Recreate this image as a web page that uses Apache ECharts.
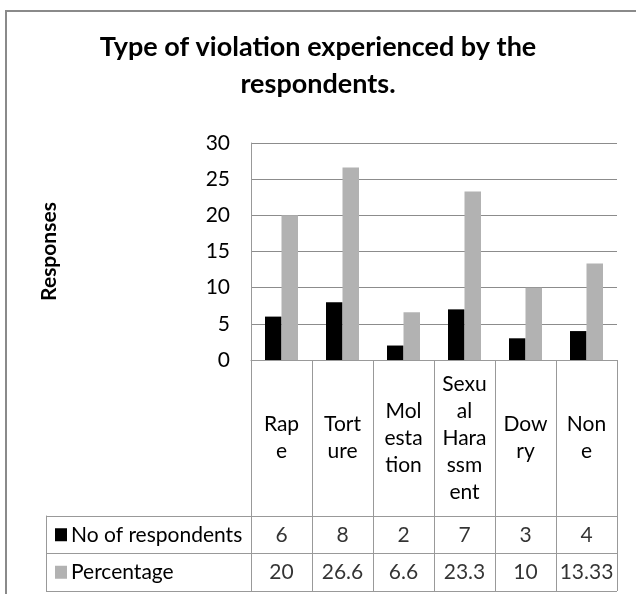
<!DOCTYPE html>
<html>
<head>
<meta charset="utf-8">
<script src="https://cdn.jsdelivr.net/npm/echarts@6/dist/echarts.min.js"></script>
<style>
  body { margin: 0; background: #fff; }
  #chart { width: 636px; height: 594px; }
</style>
</head>
<body>
<div id="chart"></div>
<script>
// categories as they wrap in the data table
const categories = ["Rap\ne", "Tort\nure", "Mol\nesta\ntion", "Sexu\nal\nHara\nssm\nent", "Dow\nry", "Non\ne"];
const rowNames = ["No of respondents", "Percentage"];
const respondents = [6, 8, 2, 7, 3, 4];
const percentage = [20, 26.6, 6.6, 23.3, 10, 13.33];
const yTicks = [0, 5, 10, 15, 20, 25, 30];

const FONT = "Lato";
const lineColor = "#999";
const colors = ["#000000", "#b2b2b2"];

// value cells of the table: [column, row, value]
let cells = [];
[respondents, percentage].forEach((arr, r) => {
  arr.forEach((v, c) => cells.push([c, r, v]));
});

const chart = echarts.init(document.getElementById("chart"));
chart.setOption({
  animation: false,
  textStyle: { fontFamily: FONT },
  title: {
    text: "Type of violation experienced by the\nrespondents.",
    left: "center",
    top: 24,
    textStyle: { fontFamily: FONT, fontSize: 27, fontWeight: "bold", color: "#000", lineHeight: 37 },
  },
  graphic: [
    {
      type: "rect",
      shape: { x: 6, y: 11, width: 700, height: 700 },
      style: { fill: "none", stroke: "#8a8a8a", lineWidth: 2 },
      silent: true,
    },
  ],
  grid: [
    // bars
    { left: 251, right: 19, top: 143, bottom: 234 },
    // table values
    { left: 251, right: 19, top: 516, height: 75 },
    // table row names
    { left: 46, width: 205, top: 516, height: 75 },
  ],
  xAxis: [
    {
      type: "category",
      data: categories,
      gridIndex: 0,
      axisLine: { lineStyle: { color: lineColor } },
      axisTick: { show: true, interval: 0, length: 231, lineStyle: { color: lineColor } },
      axisLabel: {
        interval: 0,
        margin: 78,
        verticalAlign: "middle",
        fontSize: 21,
        lineHeight: 27,
        color: "#000",
        fontFamily: FONT,
      },
    },
    {
      type: "category",
      data: categories,
      gridIndex: 1,
      axisLine: { show: false },
      axisTick: { show: false },
      axisLabel: { show: false },
    },
    { type: "value", gridIndex: 2, show: false, min: 0, max: 1 },
  ],
  yAxis: [
    {
      type: "value",
      gridIndex: 0,
      min: yTicks[0],
      max: yTicks[yTicks.length - 1],
      interval: 5,
      name: "Responses",
      nameLocation: "middle",
      nameGap: 191,
      nameRotate: 90,
      nameTextStyle: { fontFamily: FONT, fontSize: 21, fontWeight: "bold", color: "#000" },
      axisLine: { show: true, lineStyle: { color: lineColor } },
      axisTick: { show: false },
      splitLine: { lineStyle: { color: "#8c8c8c" } },
      axisLabel: { fontSize: 21, margin: 21, color: "#000", fontFamily: FONT },
    },
    {
      type: "category",
      data: rowNames,
      gridIndex: 1,
      inverse: true,
      axisLine: { show: false },
      axisTick: { show: false },
      axisLabel: { show: false },
      splitLine: { show: true, interval: 0, lineStyle: { color: lineColor } },
    },
    {
      type: "category",
      data: rowNames,
      gridIndex: 2,
      inverse: true,
      axisLine: { show: true, lineStyle: { color: lineColor } },
      axisTick: { show: false },
      splitLine: { show: true, interval: 0, lineStyle: { color: lineColor } },
      axisLabel: {
        inside: true,
        margin: 9,
        interval: 0,
        fontSize: 21,
        color: "#000",
        fontFamily: FONT,
        formatter: (name, i) => "{sq" + i + "|}{t|" + name + "}",
        rich: {
          sq0: { backgroundColor: colors[0], width: 12, height: 13 },
          sq1: { backgroundColor: colors[1], width: 12, height: 13 },
          t: { fontSize: 21, fontFamily: FONT, color: "#000", padding: [0, 0, 0, 4] },
        },
      },
    },
  ],
  series: [
    {
      name: rowNames[0],
      type: "bar",
      data: respondents,
      barWidth: 16.5,
      barGap: "0%",
      itemStyle: { color: colors[0] },
    },
    {
      name: rowNames[1],
      type: "bar",
      data: percentage,
      barWidth: 16.5,
      barGap: "0%",
      itemStyle: { color: colors[1] },
    },
    {
      type: "scatter",
      xAxisIndex: 1,
      yAxisIndex: 1,
      data: cells,
      symbolSize: 0,
      label: {
        show: true,
        position: "inside",
        formatter: (p) => String(p.value[2]),
        fontSize: 21,
        color: "#000",
        fontFamily: FONT,
      },
    },
  ],
});
</script>
</body>
</html>
